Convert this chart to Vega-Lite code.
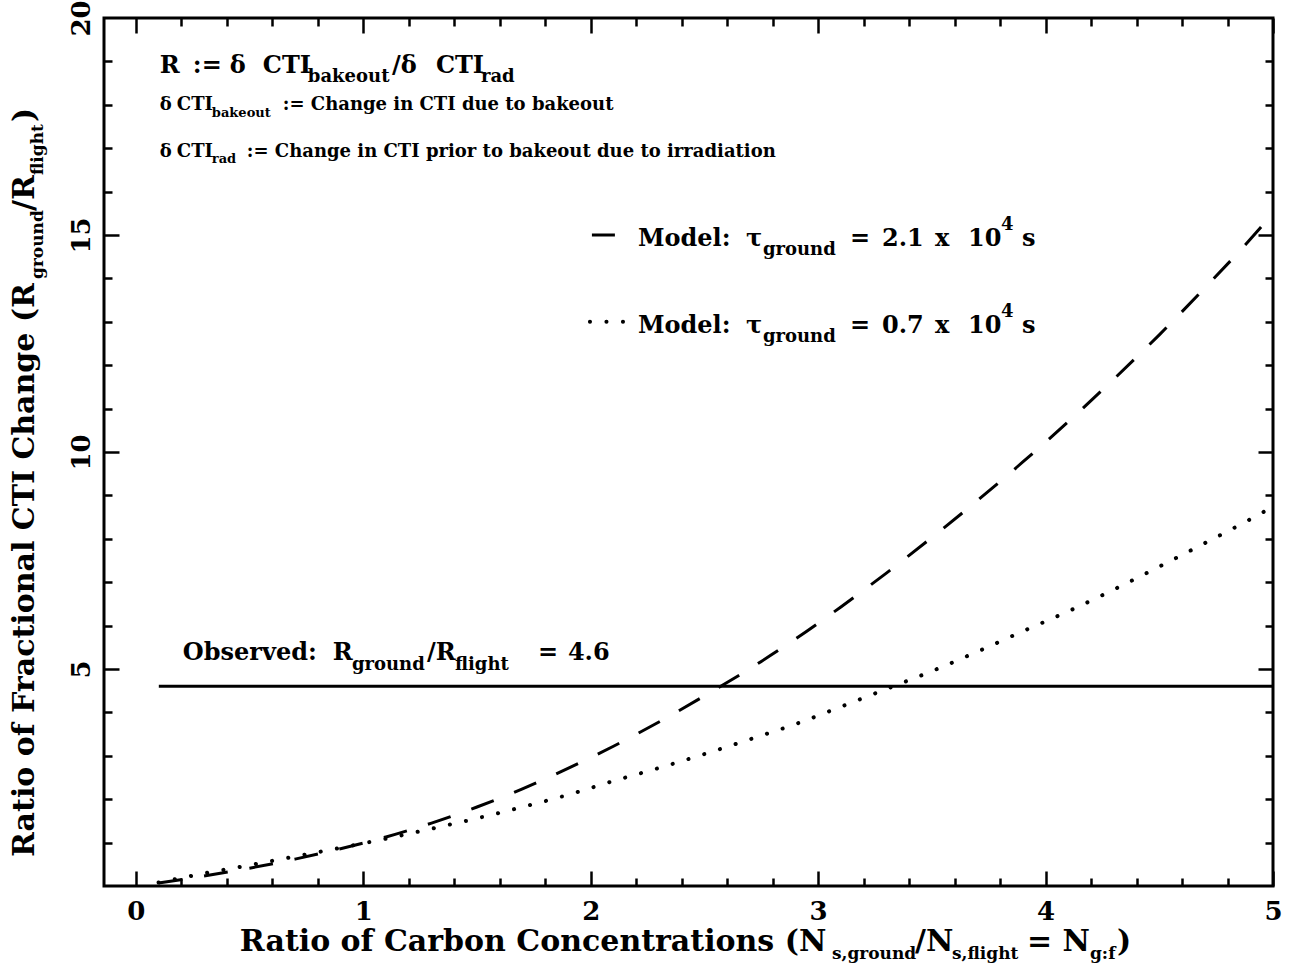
{
  "$schema": "https://vega.github.io/schema/vega-lite/v6.json",
  "width": 1169,
  "height": 868,
  "autosize": {"type": "none"},
  "padding": {"left": 104, "top": 18, "right": 16, "bottom": 87},
  "background": "white",
  "config": {
    "view": {"stroke": "black", "strokeWidth": 3},
    "axis": {"grid": false, "domain": false, "title": null, "tickColor": "black", "labelColor": "black", "labelFont": "DejaVu Serif", "labelFontWeight": "bold", "labelFontSize": 26, "labelFlush": false, "labelOverlap": false}
  },
  "datasets": {
    "observed": [{"x": 0.101, "y": 4.6}, {"x": 5.0, "y": 4.6}],
    "dashed": [
      {"x": 0.1, "y": 0.07}, {"x": 0.3, "y": 0.23}, {"x": 0.5, "y": 0.41}, {"x": 0.7, "y": 0.62}, {"x": 0.9, "y": 0.86},
      {"x": 1.1, "y": 1.13}, {"x": 1.3, "y": 1.45}, {"x": 1.5, "y": 1.82}, {"x": 1.7, "y": 2.24}, {"x": 1.9, "y": 2.71},
      {"x": 2.1, "y": 3.22}, {"x": 2.3, "y": 3.78}, {"x": 2.5, "y": 4.38}, {"x": 2.7, "y": 5.01}, {"x": 2.9, "y": 5.69},
      {"x": 3.1, "y": 6.43}, {"x": 3.3, "y": 7.21}, {"x": 3.5, "y": 8.03}, {"x": 3.7, "y": 8.88}, {"x": 3.9, "y": 9.77},
      {"x": 4.1, "y": 10.7}, {"x": 4.3, "y": 11.68}, {"x": 4.5, "y": 12.7}, {"x": 4.7, "y": 13.78}, {"x": 4.9, "y": 14.9},
      {"x": 5.0, "y": 15.5}
    ],
    "dotted": [
      {"x": 0.1, "y": 0.08}, {"x": 0.3, "y": 0.29}, {"x": 0.5, "y": 0.48}, {"x": 0.7, "y": 0.68}, {"x": 0.9, "y": 0.88},
      {"x": 1.1, "y": 1.09}, {"x": 1.3, "y": 1.32}, {"x": 1.5, "y": 1.56}, {"x": 1.7, "y": 1.82}, {"x": 1.9, "y": 2.1},
      {"x": 2.1, "y": 2.42}, {"x": 2.3, "y": 2.72}, {"x": 2.5, "y": 3.04}, {"x": 2.7, "y": 3.38}, {"x": 2.9, "y": 3.73},
      {"x": 3.1, "y": 4.13}, {"x": 3.3, "y": 4.54}, {"x": 3.5, "y": 4.95}, {"x": 3.7, "y": 5.4}, {"x": 3.9, "y": 5.87},
      {"x": 4.1, "y": 6.33}, {"x": 4.3, "y": 6.83}, {"x": 4.5, "y": 7.36}, {"x": 4.7, "y": 7.9}, {"x": 4.9, "y": 8.45},
      {"x": 5.0, "y": 8.74}
    ],
    "legendDashed": [{"x": 2.0053, "y": 15.0}, {"x": 2.1064, "y": 15.0}],
    "legendDotted": [{"x": 1.9965, "y": 13.0}, {"x": 2.1469, "y": 13.0}],
    "big": [
      {"x": 0.1055, "y": 18.733, "t": "R"},
      {"x": 0.2507, "y": 18.733, "t": ":="},
      {"x": 0.4134, "y": 18.733, "t": "δ"},
      {"x": 0.5585, "y": 18.733, "t": "CTI"},
      {"x": 1.1258, "y": 18.733, "t": "/δ"},
      {"x": 1.3193, "y": 18.733, "t": "CTI"},
      {"x": 2.2076, "y": 14.747, "t": "Model:"},
      {"x": 2.6825, "y": 14.747, "t": "τ"},
      {"x": 3.1398, "y": 14.747, "t": "="},
      {"x": 3.2806, "y": 14.747, "t": "2.1"},
      {"x": 3.5136, "y": 14.747, "t": "x"},
      {"x": 3.6587, "y": 14.747, "t": "10"},
      {"x": 3.8962, "y": 14.747, "t": "s"},
      {"x": 2.2076, "y": 12.742, "t": "Model:"},
      {"x": 2.6825, "y": 12.742, "t": "τ"},
      {"x": 3.1398, "y": 12.742, "t": "="},
      {"x": 3.2806, "y": 12.742, "t": "0.7"},
      {"x": 3.5136, "y": 12.742, "t": "x"},
      {"x": 3.6587, "y": 12.742, "t": "10"},
      {"x": 3.8962, "y": 12.742, "t": "s"},
      {"x": 0.2067, "y": 5.2074, "t": "Observed:"},
      {"x": 0.8663, "y": 5.2074, "t": "R"},
      {"x": 1.2797, "y": 5.2074, "t": "/R"},
      {"x": 1.7678, "y": 5.2074, "t": "="},
      {"x": 1.8997, "y": 5.2074, "t": "4.6"}
    ],
    "sub": [
      {"x": 0.7564, "y": 18.525, "t": "bakeout"},
      {"x": 1.5172, "y": 18.525, "t": "rad"},
      {"x": 2.7573, "y": 14.539, "t": "ground"},
      {"x": 3.8038, "y": 15.115, "t": "4"},
      {"x": 2.7573, "y": 12.535, "t": "ground"},
      {"x": 3.8038, "y": 13.111, "t": "4"},
      {"x": 0.9499, "y": 4.977, "t": "ground"},
      {"x": 1.4028, "y": 4.977, "t": "flight"}
    ],
    "small": [
      {"x": 0.1055, "y": 17.88, "t": "δ"},
      {"x": 0.1803, "y": 17.88, "t": "CTI"},
      {"x": 0.6464, "y": 17.88, "t": ":= Change in CTI due to bakeout"},
      {"x": 0.1055, "y": 16.797, "t": "δ"},
      {"x": 0.1803, "y": 16.797, "t": "CTI"},
      {"x": 0.4881, "y": 16.797, "t": ":= Change in CTI prior to bakeout due to irradiation"}
    ],
    "tiny": [
      {"x": 0.3342, "y": 17.719, "t": "bakeout"},
      {"x": 0.3342, "y": 16.659, "t": "rad"}
    ],
    "xtitle": [
      {"x": 0.4573, "y": -1.4977, "t": "Ratio of Carbon Concentrations (N"},
      {"x": 3.4257, "y": -1.4977, "t": "/N"},
      {"x": 3.9182, "y": -1.4977, "t": "= N"},
      {"x": 4.314, "y": -1.4977, "t": ")"}
    ],
    "xtitlesub": [
      {"x": 3.0607, "y": -1.682, "t": "s,ground"},
      {"x": 3.5884, "y": -1.682, "t": "s,flight"},
      {"x": 4.1953, "y": -1.682, "t": "g:f"}
    ],
    "ytitle": [
      {"x": -0.4485, "y": 0.668, "t": "Ratio of Fractional CTI Change (R"},
      {"x": -0.4485, "y": 15.553, "t": "/R"},
      {"x": -0.4485, "y": 17.604, "t": ")"}
    ],
    "ytitlesub": [
      {"x": -0.409, "y": 13.986, "t": "ground"},
      {"x": -0.409, "y": 16.382, "t": "flight"}
    ]
  },
  "resolve": {"axis": {"x": "independent", "y": "independent"}},
  "layer": [
    {
      "data": {"name": "observed"},
      "mark": {"type": "line", "color": "black", "strokeWidth": 3},
      "encoding": {
        "x": {"field": "x", "type": "quantitative", "scale": {"domain": [-0.14, 5], "nice": false, "zero": false},
              "axis": {"orient": "bottom", "values": [0, 1, 2, 3, 4, 5], "ticks": false, "labelPadding": 12}},
        "y": {"field": "y", "type": "quantitative", "scale": {"domain": [0, 20], "nice": false, "zero": false},
              "axis": {"orient": "left", "values": [5, 10, 15, 20], "ticks": false, "labelAngle": 270, "labelAlign": "center", "labelBaseline": "bottom", "labelPadding": 10}}
      }
    },
    {
      "data": {"name": "dashed"},
      "mark": {"type": "line", "color": "black", "strokeWidth": 3, "strokeDash": [24, 22], "interpolate": "monotone"},
      "encoding": {
        "x": {"field": "x", "type": "quantitative", "scale": {"domain": [-0.14, 5], "nice": false, "zero": false},
              "axis": {"orient": "bottom", "values": [0, 1, 2, 3, 4, 5], "labels": false, "tickSize": -15, "tickWidth": 2.5}},
        "y": {"field": "y", "type": "quantitative", "scale": {"domain": [0, 20], "nice": false, "zero": false},
              "axis": {"orient": "left", "values": [5, 10, 15], "labels": false, "tickSize": -15, "tickWidth": 2.5}}
      }
    },
    {
      "data": {"name": "dotted"},
      "mark": {"type": "line", "color": "black", "strokeWidth": 4, "strokeDash": [0.1, 16.4], "strokeCap": "round", "interpolate": "monotone"},
      "encoding": {
        "x": {"field": "x", "type": "quantitative", "scale": {"domain": [-0.14, 5], "nice": false, "zero": false},
              "axis": {"orient": "bottom", "values": [0.2, 0.4, 0.6, 0.8, 1.2, 1.4, 1.6, 1.8, 2.2, 2.4, 2.6, 2.8, 3.2, 3.4, 3.6, 3.8, 4.2, 4.4, 4.6, 4.8], "labels": false, "tickSize": -8, "tickWidth": 2.5}},
        "y": {"field": "y", "type": "quantitative", "scale": {"domain": [0, 20], "nice": false, "zero": false},
              "axis": {"orient": "left", "values": [1, 2, 3, 4, 6, 7, 8, 9, 11, 12, 13, 14, 16, 17, 18, 19], "labels": false, "tickSize": -8, "tickWidth": 2.5}}
      }
    },
    {
      "data": {"name": "legendDashed"},
      "mark": {"type": "line", "color": "black", "strokeWidth": 3, "strokeDash": [24, 22]},
      "encoding": {
        "x": {"field": "x", "type": "quantitative", "scale": {"domain": [-0.14, 5], "nice": false, "zero": false},
              "axis": {"orient": "top", "values": [0, 1, 2, 3, 4, 5], "labels": false, "tickSize": -15, "tickWidth": 2.5}},
        "y": {"field": "y", "type": "quantitative", "scale": {"domain": [0, 20], "nice": false, "zero": false},
              "axis": {"orient": "right", "values": [5, 10, 15], "labels": false, "tickSize": -15, "tickWidth": 2.5}}
      }
    },
    {
      "data": {"name": "legendDotted"},
      "mark": {"type": "line", "color": "black", "strokeWidth": 4, "strokeDash": [0.1, 16.4], "strokeCap": "round"},
      "encoding": {
        "x": {"field": "x", "type": "quantitative", "scale": {"domain": [-0.14, 5], "nice": false, "zero": false},
              "axis": {"orient": "top", "values": [0.2, 0.4, 0.6, 0.8, 1.2, 1.4, 1.6, 1.8, 2.2, 2.4, 2.6, 2.8, 3.2, 3.4, 3.6, 3.8, 4.2, 4.4, 4.6, 4.8], "labels": false, "tickSize": -8, "tickWidth": 2.5}},
        "y": {"field": "y", "type": "quantitative", "scale": {"domain": [0, 20], "nice": false, "zero": false},
              "axis": {"orient": "right", "values": [1, 2, 3, 4, 6, 7, 8, 9, 11, 12, 13, 14, 16, 17, 18, 19], "labels": false, "tickSize": -8, "tickWidth": 2.5}}
      }
    },
    {
      "data": {"name": "big"},
      "mark": {"type": "text", "font": "DejaVu Serif", "fontWeight": "bold", "fontSize": 24, "align": "left", "baseline": "alphabetic", "color": "black"},
      "encoding": {
        "x": {"field": "x", "type": "quantitative", "scale": {"domain": [-0.14, 5], "nice": false, "zero": false}, "axis": null},
        "y": {"field": "y", "type": "quantitative", "scale": {"domain": [0, 20], "nice": false, "zero": false}, "axis": null},
        "text": {"field": "t"}
      }
    },
    {
      "data": {"name": "sub"},
      "mark": {"type": "text", "font": "DejaVu Serif", "fontWeight": "bold", "fontSize": 18, "align": "left", "baseline": "alphabetic", "color": "black"},
      "encoding": {
        "x": {"field": "x", "type": "quantitative", "scale": {"domain": [-0.14, 5], "nice": false, "zero": false}, "axis": null},
        "y": {"field": "y", "type": "quantitative", "scale": {"domain": [0, 20], "nice": false, "zero": false}, "axis": null},
        "text": {"field": "t"}
      }
    },
    {
      "data": {"name": "small"},
      "mark": {"type": "text", "font": "DejaVu Serif", "fontWeight": "bold", "fontSize": 18, "align": "left", "baseline": "alphabetic", "color": "black"},
      "encoding": {
        "x": {"field": "x", "type": "quantitative", "scale": {"domain": [-0.14, 5], "nice": false, "zero": false}, "axis": null},
        "y": {"field": "y", "type": "quantitative", "scale": {"domain": [0, 20], "nice": false, "zero": false}, "axis": null},
        "text": {"field": "t"}
      }
    },
    {
      "data": {"name": "tiny"},
      "mark": {"type": "text", "font": "DejaVu Serif", "fontWeight": "bold", "fontSize": 13, "align": "left", "baseline": "alphabetic", "color": "black"},
      "encoding": {
        "x": {"field": "x", "type": "quantitative", "scale": {"domain": [-0.14, 5], "nice": false, "zero": false}, "axis": null},
        "y": {"field": "y", "type": "quantitative", "scale": {"domain": [0, 20], "nice": false, "zero": false}, "axis": null},
        "text": {"field": "t"}
      }
    },
    {
      "data": {"name": "xtitle"},
      "mark": {"type": "text", "font": "DejaVu Serif", "fontWeight": "bold", "fontSize": 30, "align": "left", "baseline": "alphabetic", "color": "black"},
      "encoding": {
        "x": {"field": "x", "type": "quantitative", "scale": {"domain": [-0.14, 5], "nice": false, "zero": false}, "axis": null},
        "y": {"field": "y", "type": "quantitative", "scale": {"domain": [0, 20], "nice": false, "zero": false}, "axis": null},
        "text": {"field": "t"}
      }
    },
    {
      "data": {"name": "xtitlesub"},
      "mark": {"type": "text", "font": "DejaVu Serif", "fontWeight": "bold", "fontSize": 17, "align": "left", "baseline": "alphabetic", "color": "black"},
      "encoding": {
        "x": {"field": "x", "type": "quantitative", "scale": {"domain": [-0.14, 5], "nice": false, "zero": false}, "axis": null},
        "y": {"field": "y", "type": "quantitative", "scale": {"domain": [0, 20], "nice": false, "zero": false}, "axis": null},
        "text": {"field": "t"}
      }
    },
    {
      "data": {"name": "ytitle"},
      "mark": {"type": "text", "font": "DejaVu Serif", "fontWeight": "bold", "fontSize": 30, "align": "left", "baseline": "alphabetic", "angle": 270, "color": "black"},
      "encoding": {
        "x": {"field": "x", "type": "quantitative", "scale": {"domain": [-0.14, 5], "nice": false, "zero": false}, "axis": null},
        "y": {"field": "y", "type": "quantitative", "scale": {"domain": [0, 20], "nice": false, "zero": false}, "axis": null},
        "text": {"field": "t"}
      }
    },
    {
      "data": {"name": "ytitlesub"},
      "mark": {"type": "text", "font": "DejaVu Serif", "fontWeight": "bold", "fontSize": 17, "align": "left", "baseline": "alphabetic", "angle": 270, "color": "black"},
      "encoding": {
        "x": {"field": "x", "type": "quantitative", "scale": {"domain": [-0.14, 5], "nice": false, "zero": false}, "axis": null},
        "y": {"field": "y", "type": "quantitative", "scale": {"domain": [0, 20], "nice": false, "zero": false}, "axis": null},
        "text": {"field": "t"}
      }
    }
  ]
}
